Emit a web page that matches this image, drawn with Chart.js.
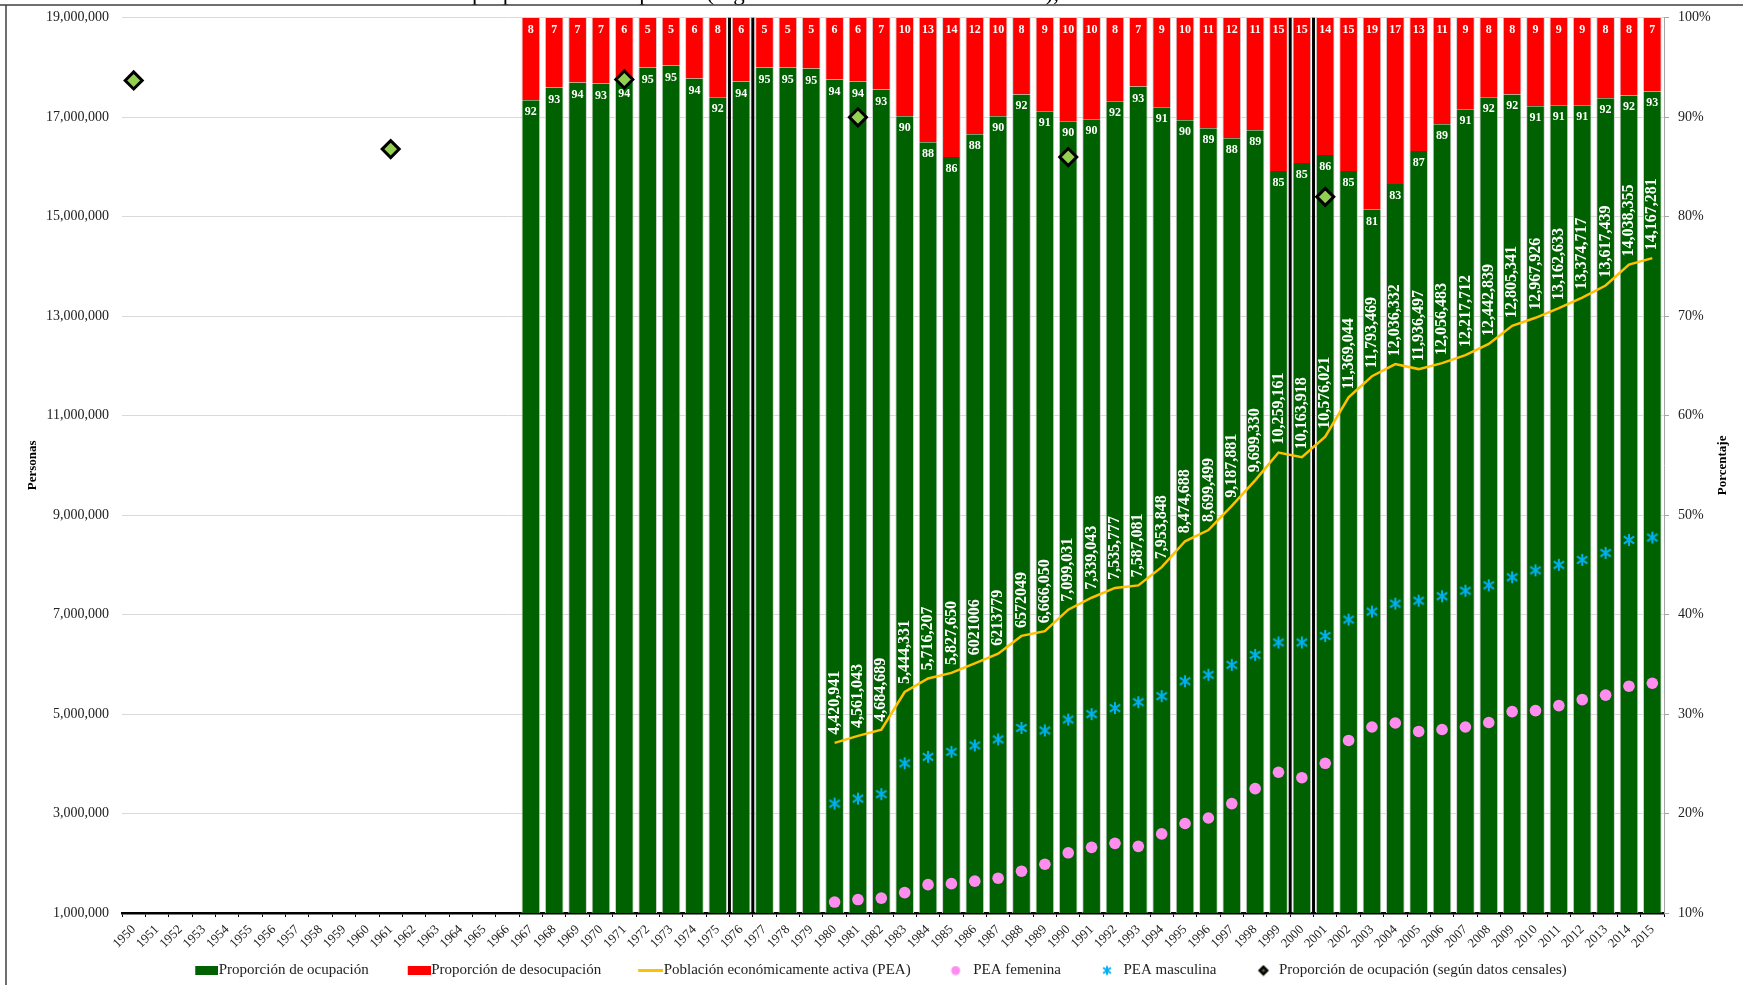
<!DOCTYPE html>
<html lang="es">
<head>
<meta charset="utf-8">
<title>PEA y proporción de ocupación, 1950-2015</title>
<script src="https://cdn.jsdelivr.net/npm/chart.js@4.4.1/dist/chart.umd.min.js"></script>
<style>
  html, body { margin: 0; padding: 0; background: #fff; }
  #contenedor { position: relative; width: 1743px; height: 985px; }
</style>
</head>
<body>
<div id="contenedor"><canvas id="grafica"></canvas></div>
<script>
// Años del eje horizontal
const anios = [
  '1950', '1951', '1952', '1953', '1954', '1955', '1956', '1957', '1958', '1959',
  '1960', '1961', '1962', '1963', '1964', '1965', '1966', '1967', '1968', '1969',
  '1970', '1971', '1972', '1973', '1974', '1975', '1976', '1977', '1978', '1979',
  '1980', '1981', '1982', '1983', '1984', '1985', '1986', '1987', '1988', '1989',
  '1990', '1991', '1992', '1993', '1994', '1995', '1996', '1997', '1998', '1999',
  '2000', '2001', '2002', '2003', '2004', '2005', '2006', '2007', '2008', '2009',
  '2010', '2011', '2012', '2013', '2014', '2015'
];

// Proporción de ocupación y de desocupación (%), desde 1967
const inicioEncuesta = '1967';
const ocupacion = [
  91.7, 93.0, 93.5, 93.4, 93.6, 95.0, 95.2, 93.9, 92.0, 93.6,
  95.0, 95.0, 94.9, 93.8, 93.6, 92.8, 90.1, 87.5, 86.0, 88.3,
  90.1, 92.3, 90.6, 89.6, 89.8, 91.6, 93.1, 91.0, 89.7, 88.9,
  87.9, 88.7, 84.6, 85.4, 86.2, 84.6, 80.7, 83.3, 86.6, 89.3,
  90.8, 92.0, 92.3, 91.1, 91.2, 91.2, 91.9, 92.2, 92.6
];
const desocupacion = [
  8.3, 7.0, 6.5, 6.6, 6.4, 5.0, 4.8, 6.1, 8.0, 6.4,
  5.0, 5.0, 5.1, 6.2, 6.4, 7.2, 9.9, 12.5, 14.0, 11.7,
  9.9, 7.7, 9.4, 10.4, 10.2, 8.4, 6.9, 9.0, 10.3, 11.1,
  12.1, 11.3, 15.4, 14.6, 13.8, 15.4, 19.3, 16.7, 13.4, 10.7,
  9.2, 8.0, 7.7, 8.9, 8.8, 8.8, 8.1, 7.8, 7.4
];

// Población económicamente activa (personas), desde 1980
const inicioPEA = '1980';
const pea = [
  4420941, 4561043, 4684689, 5444331, 5716207, 5827650, 6021006, 6213779, 6572049, 6666050,
  7099031, 7339043, 7535777, 7587081, 7953848, 8474688, 8699499, 9187881, 9699330, 10259161,
  10163918, 10576021, 11369044, 11793469, 12036332, 11936497, 12056483, 12217712, 12442839, 12805341,
  12967926, 13162633, 13374717, 13617439, 14038355, 14167281
];
const peaFemenina = [
  1220000, 1270000, 1300000, 1410000, 1570000, 1590000, 1640000, 1700000, 1840000, 1980000,
  2210000, 2320000, 2400000, 2340000, 2590000, 2800000, 2910000, 3200000, 3500000, 3830000,
  3720000, 4010000, 4470000, 4740000, 4820000, 4650000, 4690000, 4740000, 4830000, 5050000,
  5070000, 5170000, 5290000, 5380000, 5560000, 5620000
];
const peaMasculina = [
  3200000, 3300000, 3390000, 4010000, 4140000, 4240000, 4370000, 4490000, 4720000, 4670000,
  4890000, 5000000, 5120000, 5240000, 5360000, 5660000, 5790000, 5990000, 6190000, 6440000,
  6440000, 6570000, 6900000, 7060000, 7220000, 7280000, 7370000, 7480000, 7590000, 7750000,
  7890000, 8000000, 8100000, 8240000, 8500000, 8550000
];
// Etiquetas de PEA que aparecen sin separador de miles
const sinSeparador = ['1986', '1987', '1988'];

// Proporción de ocupación según datos censales (%)
const aniosCenso = ['1950', '1961', '1971', '1981', '1990', '2001'];
const ocupacionCenso = [93.7, 86.8, 93.8, 90.0, 86.0, 82.0];

// Años enmarcados por líneas negras (cambios en la serie)
const aniosCorte = ['1976', '2000'];

// Marcas de los ejes
const ticksPersonas = [1000000, 3000000, 5000000, 7000000, 9000000, 11000000, 13000000, 15000000, 17000000, 19000000];
const ticksPorcentaje = [10, 20, 30, 40, 50, 60, 70, 80, 90, 100];

const tituloGrafica = 'Evolución de la proporción de ocupación (según la Encuesta Nacional del INE), 1950-2015';

const serif = "'Liberation Serif', 'Times New Roman', serif";
Chart.defaults.font.family = serif;
Chart.defaults.color = '#222';

// Coloca una serie que empieza en el año "desde" sobre todos los años
function alinear(desde, valores) {
  const inicio = anios.indexOf(desde);
  return anios.map((a, i) => (i >= inicio && i - inicio < valores.length) ? valores[i - inicio] : null);
}

const censo = anios.map(a => {
  const k = aniosCenso.indexOf(a);
  return k >= 0 ? ocupacionCenso[k] : null;
});

// Pequeños lienzos para marcas y leyenda
function icono(ancho, alto, dibujar) {
  const c = document.createElement('canvas');
  c.width = ancho;
  c.height = alto;
  dibujar(c.getContext('2d'));
  return c;
}
function asterisco(g, cx, cy, r) {
  g.strokeStyle = '#00B0F0';
  g.lineWidth = 2;
  g.beginPath();
  g.moveTo(cx, cy - r); g.lineTo(cx, cy + r);
  g.moveTo(cx - r * 0.87, cy - r * 0.6); g.lineTo(cx + r * 0.87, cy + r * 0.6);
  g.moveTo(cx + r * 0.87, cy - r * 0.6); g.lineTo(cx - r * 0.87, cy + r * 0.6);
  g.stroke();
}
const marcaMasculina = icono(14, 14, g => asterisco(g, 7, 7, 6));

// La leyenda reserva 45 px por icono; el lienzo es más ancho (59 px) para que
// la marca llegue hasta el texto, y su parte izquierda en blanco separa los elementos
const anchoIcono = 45;
const anchoLienzo = 59;
const iconos = [
  icono(anchoLienzo, 9, g => { g.fillStyle = '#006100'; g.fillRect(36, 0, 23, 9); }),
  icono(anchoLienzo, 9, g => { g.fillStyle = '#FF0000'; g.fillRect(36, 0, 23, 9); }),
  icono(anchoLienzo, 3, g => { g.fillStyle = '#FFC000'; g.fillRect(34, 0, 25, 3); }),
  icono(anchoLienzo, 10, g => { g.fillStyle = '#FF8DF0'; g.beginPath(); g.arc(42, 5, 4.5, 0, Math.PI * 2); g.fill(); }),
  icono(anchoLienzo, 12, g => asterisco(g, 43, 6, 4.5)),
  icono(anchoLienzo, 12, g => {
    g.fillStyle = '#000';
    g.beginPath(); g.moveTo(44, 0.5); g.lineTo(49.5, 6); g.lineTo(44, 11.5); g.lineTo(38.5, 6); g.closePath(); g.fill();
    g.fillStyle = '#4a6b28';
    g.beginPath(); g.moveTo(44, 4); g.lineTo(46, 6); g.lineTo(44, 8); g.lineTo(42, 6); g.closePath(); g.fill();
  })
];

// Marco, título cortado arriba y fondo
const marco = {
  id: 'marco',
  beforeDraw(chart) {
    const ctx = chart.ctx;
    ctx.save();
    ctx.fillStyle = '#fff';
    ctx.fillRect(0, 0, chart.width, chart.height);
    ctx.font = '23px ' + serif;
    ctx.fillStyle = '#000';
    ctx.textBaseline = 'alphabetic';
    ctx.fillText(tituloGrafica, 472 - ctx.measureText('Evolución de la ').width, 0);
    ctx.strokeStyle = '#404040';
    ctx.lineWidth = 1.5;
    ctx.beginPath();
    ctx.moveTo(0, 5); ctx.lineTo(chart.width, 5);
    ctx.moveTo(6, 5); ctx.lineTo(6, chart.height);
    ctx.stroke();
    ctx.restore();
  }
};

// Líneas negras verticales alrededor de los años de corte
const cortes = {
  id: 'cortes',
  beforeDatasetsDraw(chart) {
    const {ctx, chartArea, scales: {x}} = chart;
    const mitad = (x.getPixelForValue(1) - x.getPixelForValue(0)) / 2;
    ctx.save();
    ctx.strokeStyle = '#000';
    ctx.lineWidth = 3;
    aniosCorte.forEach(a => {
      const cx = x.getPixelForValue(anios.indexOf(a));
      [cx - mitad, cx + mitad].forEach(px => {
        ctx.beginPath();
        ctx.moveTo(px, chartArea.top);
        ctx.lineTo(px, chartArea.bottom);
        ctx.stroke();
      });
    });
    ctx.restore();
  }
};

// Etiquetas de datos: porcentajes en barras y PEA vertical
const etiquetas = {
  id: 'etiquetas',
  afterDatasetsDraw(chart) {
    const ctx = chart.ctx;
    ctx.save();
    ctx.fillStyle = '#fff';
    ctx.textAlign = 'center';
    ctx.textBaseline = 'middle';
    ctx.font = 'bold 12px ' + serif;
    [0, 1].forEach(d => {
      const datos = chart.data.datasets[d].data;
      chart.getDatasetMeta(d).data.forEach((barra, i) => {
        if (datos[i] == null) return;
        ctx.fillText(String(Math.round(datos[i])), barra.x, barra.y + 12);
      });
    });

    ctx.font = 'bold 16px ' + serif;
    ctx.textAlign = 'left';
    const datosPEA = chart.data.datasets[2].data;
    chart.getDatasetMeta(2).data.forEach((p, i) => {
      if (datosPEA[i] == null) return;
      const texto = sinSeparador.includes(anios[i]) ? String(datosPEA[i]) : datosPEA[i].toLocaleString('en-US');
      ctx.save();
      ctx.translate(p.x, p.y - 8);
      ctx.rotate(-Math.PI / 2);
      ctx.fillText(texto, 0, 0);
      ctx.restore();
    });
    ctx.restore();
  }
};

// Título del eje derecho (leído de abajo hacia arriba)
const tituloDerecho = {
  id: 'tituloDerecho',
  afterDraw(chart) {
    const {ctx, chartArea} = chart;
    ctx.save();
    ctx.font = 'bold 13px ' + serif;
    ctx.fillStyle = '#000';
    ctx.textAlign = 'center';
    ctx.textBaseline = 'middle';
    ctx.translate(1723, (chartArea.top + chartArea.bottom) / 2);
    ctx.rotate(-Math.PI / 2);
    ctx.fillText('Porcentaje', 0, 0);
    ctx.restore();
  }
};

const ctx = document.getElementById('grafica').getContext('2d');
new Chart(ctx, {
  type: 'bar',
  data: {
    labels: anios,
    datasets: [
      {
        label: 'Proporción de ocupación',
        data: alinear(inicioEncuesta, ocupacion),
        backgroundColor: '#006100',
        borderColor: '#cfcfcf',
        borderWidth: {left: 1, right: 1, top: 0, bottom: 0},
        yAxisID: 'y1',
        stack: 'proporcion',
        barPercentage: 0.8,
        categoryPercentage: 1,
        order: 5
      },
      {
        label: 'Proporción de desocupación',
        data: alinear(inicioEncuesta, desocupacion),
        backgroundColor: '#FF0000',
        borderColor: '#cfcfcf',
        borderWidth: {left: 1, right: 1, top: 0, bottom: 0},
        yAxisID: 'y1',
        stack: 'proporcion',
        barPercentage: 0.8,
        categoryPercentage: 1,
        order: 5
      },
      {
        type: 'line',
        label: 'Población económicamente activa (PEA)',
        data: alinear(inicioPEA, pea),
        yAxisID: 'y',
        borderColor: '#FFC000',
        backgroundColor: '#FFC000',
        borderWidth: 2.5,
        pointRadius: 0,
        tension: 0,
        order: 3
      },
      {
        type: 'line',
        label: 'PEA femenina',
        data: alinear(inicioPEA, peaFemenina),
        yAxisID: 'y',
        showLine: false,
        pointStyle: 'circle',
        pointRadius: 5.8,
        pointBorderWidth: 0,
        pointBackgroundColor: '#FF8DF0',
        borderColor: '#FF8DF0',
        backgroundColor: '#FF8DF0',
        order: 2
      },
      {
        type: 'line',
        label: 'PEA masculina',
        data: alinear(inicioPEA, peaMasculina),
        yAxisID: 'y',
        showLine: false,
        pointStyle: marcaMasculina,
        pointRadius: 6,
        borderColor: '#00B0F0',
        backgroundColor: '#00B0F0',
        order: 2
      },
      {
        type: 'line',
        label: 'Proporción de ocupación (según datos censales)',
        data: censo,
        yAxisID: 'y1',
        stack: 'censo',
        showLine: false,
        pointStyle: 'rectRot',
        pointRadius: 8.5,
        pointBorderWidth: 3,
        pointBackgroundColor: '#92D050',
        pointBorderColor: '#000',
        borderColor: '#000',
        backgroundColor: '#92D050',
        order: 1
      }
    ]
  },
  options: {
    responsive: true,
    maintainAspectRatio: false,
    animation: false,
    layout: { padding: { top: 17.8, left: 20, right: 30, bottom: -3 } },
    plugins: {
      title: { display: false },
      tooltip: { enabled: false },
      legend: {
        position: 'bottom',
        labels: {
          usePointStyle: true,
          pointStyleWidth: anchoIcono,
          boxHeight: 10,
          padding: 10,
          color: '#222',
          font: { size: 15, family: serif },
          sort: (a, b) => a.datasetIndex - b.datasetIndex,
          generateLabels(chart) {
            const items = Chart.defaults.plugins.legend.labels.generateLabels(chart);
            items.forEach(it => { it.pointStyle = iconos[it.datasetIndex]; });
            return items;
          }
        }
      }
    },
    scales: {
      x: {
        stacked: true,
        offset: true,
        grid: { display: true, drawOnChartArea: false, drawTicks: true, tickLength: 4, color: '#000', offset: true },
        border: { display: true, color: '#000', width: 2.5 },
        ticks: { autoSkip: false, minRotation: 45, maxRotation: 45, padding: 5, color: '#222', font: { size: 13 } },
        afterFit: s => { s.height = 40; }
      },
      y: {
        position: 'left',
        stacked: false,
        min: ticksPersonas[0],
        max: ticksPersonas[ticksPersonas.length - 1],
        afterBuildTicks: s => { s.ticks = ticksPersonas.map(v => ({ value: v })); },
        // marca invisible de 13 px en lugar de relleno, para no reservar espacio arriba
        grid: { color: '#d9d9d9', drawTicks: true, tickLength: 13, tickColor: 'rgba(0,0,0,0)' },
        border: { display: false },
        ticks: { padding: 0, color: '#222', font: { size: 14 }, callback: v => v.toLocaleString('en-US') },
        title: { display: true, text: 'Personas', color: '#000', font: { size: 13, weight: 'bold' }, padding: { top: 5, bottom: 0 } },
        afterFit: s => { s.width = 102; }
      },
      y1: {
        position: 'right',
        stacked: true,
        min: ticksPorcentaje[0],
        max: ticksPorcentaje[ticksPorcentaje.length - 1],
        afterBuildTicks: s => { s.ticks = ticksPorcentaje.map(v => ({ value: v })); },
        grid: { drawOnChartArea: false, drawTicks: true, tickLength: 5, color: '#a6a6a6' },
        border: { display: true, color: '#a6a6a6', width: 1 },
        ticks: { padding: 9, color: '#222', font: { size: 14 }, callback: v => v + '%' },
        afterFit: s => { s.width = 49; }
      }
    }
  },
  plugins: [marco, cortes, etiquetas, tituloDerecho]
});
</script>
</body>
</html>
